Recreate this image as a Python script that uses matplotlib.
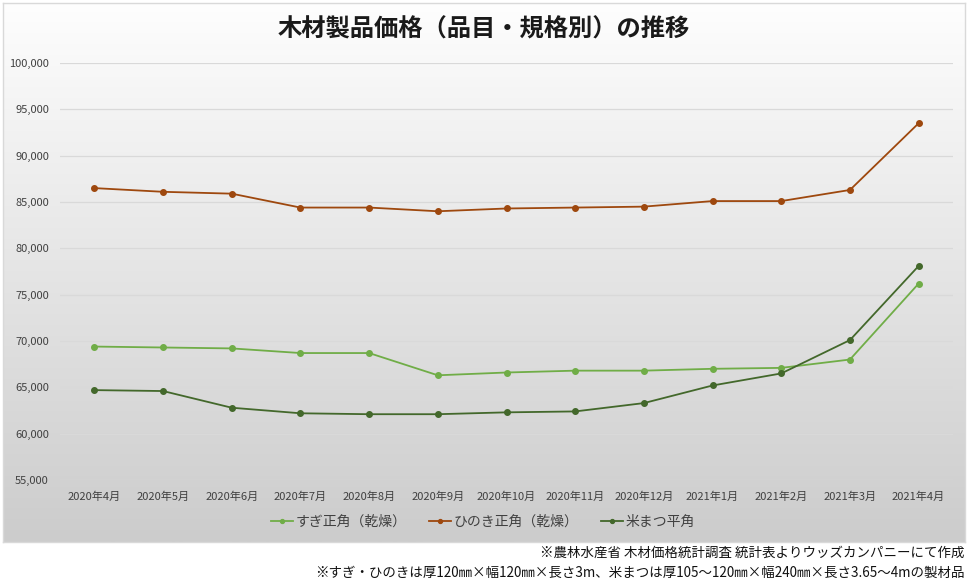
import matplotlib
matplotlib.use("Agg")
import matplotlib.pyplot as plt
import numpy as np
from matplotlib.ticker import FuncFormatter, MultipleLocator

plt.rcParams['font.family'] = ['Noto Sans CJK JP', 'DejaVu Sans']

months = ["2020年4月", "2020年5月", "2020年6月", "2020年7月", "2020年8月", "2020年9月",
          "2020年10月", "2020年11月", "2020年12月", "2021年1月", "2021年2月", "2021年3月", "2021年4月"]
sugi = [69400, 69300, 69200, 68700, 68700, 66300, 66600, 66800, 66800, 67000, 67100, 68000, 76200]
hinoki = [86500, 86100, 85900, 84400, 84400, 84000, 84300, 84400, 84500, 85100, 85100, 86300, 93500]
beimatsu = [64700, 64600, 62800, 62200, 62100, 62100, 62300, 62400, 63300, 65200, 66500, 70100, 78100]

series_names = ["すぎ正角（乾燥）", "ひのき正角（乾燥）", "米まつ平角"]
colors = ["#70AD47", "#9E480E", "#43682B"]

W, H = 968, 586
fig = plt.figure(figsize=(W / 100, H / 100), dpi=100)

# background box with vertical gradient
bg = fig.add_axes([3 / W, 1 - 542 / H, (965 - 3) / W, (542 - 3) / H])
grad = np.linspace(1.0, 0.0, 256).reshape(-1, 1)
top = np.array([0.995, 0.995, 0.995])
bot = np.array([0.80, 0.80, 0.80])
img = bot + (top - bot) * grad[..., None]
bg.imshow(img, aspect='auto', extent=[0, 1, 0, 1], origin='upper')
bg.set_xlim(0, 1); bg.set_ylim(0, 1)
bg.set_xticks([]); bg.set_yticks([])
for s in bg.spines.values():
    s.set_color("#d9d9d9")
    s.set_linewidth(1)
bg.set_zorder(0)

ax = fig.add_axes([60 / W, 1 - 480 / H, (953 - 60) / W, (480 - 63) / H])
ax.set_zorder(1)
ax.patch.set_alpha(0)
x = np.arange(len(months))
for vals, name, c in zip([sugi, hinoki, beimatsu], series_names, colors):
    ax.plot(x, vals, color=c, lw=1.3, marker='o', ms=4, label=name)

ax.set_xlim(-0.5, len(months) - 0.5)
ax.set_ylim(55000, 100000)
ax.yaxis.set_major_locator(MultipleLocator(5000))
ax.yaxis.set_major_formatter(FuncFormatter(lambda v, p: f"{int(v):,}"))
ax.set_xticks(x)
ax.set_xticklabels(months)
ax.grid(axis='y', color="#d9d9d9", lw=0.9)
ax.set_axisbelow(True)
for s in ax.spines.values():
    s.set_visible(False)
ax.tick_params(axis='both', length=0, labelsize=8, colors="#404040")
ax.tick_params(axis='y', pad=8)
ax.tick_params(axis='x', pad=8)

fig.text(0.5, 1 - 30 / H, "木材製品価格（品目・規格別）の推移", ha='center', va='center',
         fontsize=17.5, fontweight='bold', color="#1a1a1a")

leg = fig.legend(loc='center', bbox_to_anchor=(483 / W, 1 - 522 / H), ncol=3, frameon=False,
                 fontsize=10, handlelength=1.6, columnspacing=1.6, handletextpad=0.2,
                 labelcolor="#404040", markerscale=0.7)

fig.text(965 / W, 1 - 553 / H, "※農林水産省 木材価格統計調査 統計表よりウッズカンパニーにて作成",
         ha='right', va='center', fontsize=9.7, color="#111111")
fig.text(965 / W, 1 - 573 / H, "※すぎ・ひのきは厚120㎜×幅120㎜×長さ3m、米まつは厚105～120㎜×幅240㎜×長さ3.65～4mの製材品",
         ha='right', va='center', fontsize=9.7, color="#111111")

fig.savefig("out.png", dpi=100, facecolor="white")
